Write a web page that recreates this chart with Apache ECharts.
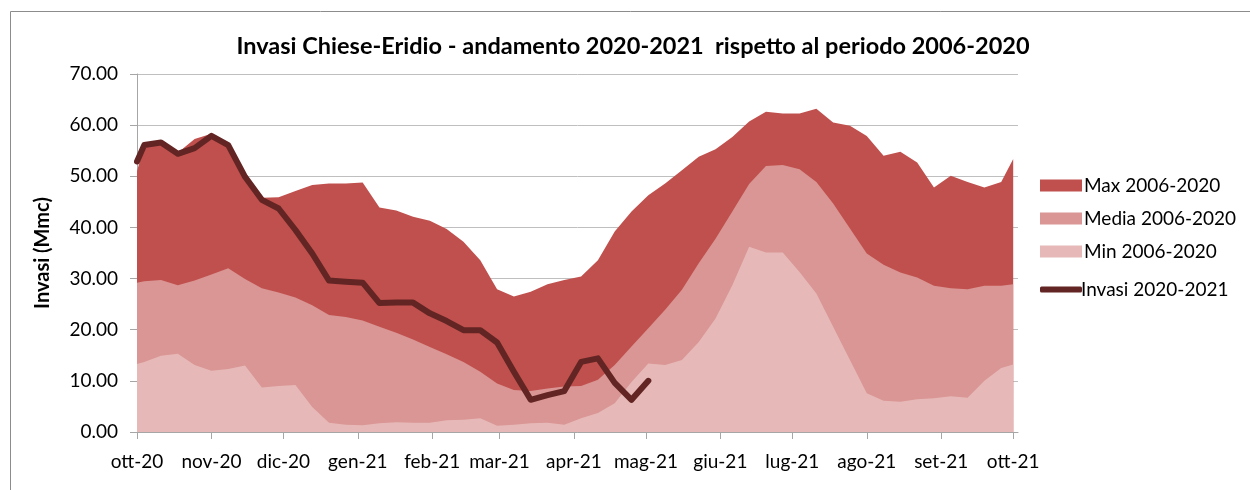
<!DOCTYPE html>
<html>
<head>
<meta charset="utf-8">
<script src="https://cdn.jsdelivr.net/npm/echarts@6/dist/echarts.min.js"></script>
<style>
html,body{margin:0;padding:0;background:#fff;}
#chart{width:1250px;height:490px;}
</style>
</head>
<body>
<div id="chart"></div>
<script>
// ---- DATA ----
var dates = ['2020-10-01','2020-10-04','2020-10-11','2020-10-18','2020-10-25','2020-11-01','2020-11-08','2020-11-15','2020-11-22','2020-11-29',
 '2020-12-06','2020-12-13','2020-12-20','2020-12-27','2021-01-03','2021-01-10','2021-01-17','2021-01-24','2021-01-31','2021-02-07',
 '2021-02-14','2021-02-21','2021-02-28','2021-03-07','2021-03-14','2021-03-21','2021-03-28','2021-04-04','2021-04-11','2021-04-18',
 '2021-04-25','2021-05-02','2021-05-09','2021-05-16','2021-05-23','2021-05-30','2021-06-06','2021-06-13','2021-06-20','2021-06-27',
 '2021-07-04','2021-07-11','2021-07-18','2021-07-25','2021-08-01','2021-08-08','2021-08-15','2021-08-22','2021-08-29','2021-09-05',
 '2021-09-12','2021-09-19','2021-09-26','2021-10-01'];

var maxVals = [51.0,56.0,56.5,54.6,57.3,58.3,56.0,50.0,45.8,45.9,
 47.1,48.3,48.6,48.6,48.8,43.9,43.3,42.1,41.3,39.7,
 37.2,33.6,27.9,26.5,27.4,28.9,29.7,30.4,33.6,39.2,
 43.1,46.3,48.6,51.2,53.8,55.3,57.7,60.7,62.6,62.3,
 62.3,63.2,60.5,59.9,57.9,54.0,54.8,52.7,47.8,50.1,
 48.9,47.8,48.9,53.4];

var mediaVals = [29.2,29.5,29.7,28.7,29.6,30.8,32.0,29.9,28.1,27.3,
 26.3,24.8,22.9,22.5,21.8,20.6,19.4,18.1,16.6,15.2,
 13.7,11.8,9.5,8.2,8.0,8.5,8.9,9.0,10.2,13.1,
 16.7,20.3,23.9,27.8,33.0,37.8,43.1,48.5,52.0,52.2,
 51.4,48.9,44.7,39.8,34.9,32.7,31.2,30.2,28.6,28.1,
 27.9,28.6,28.6,28.9];

var minVals = [13.3,13.7,14.9,15.3,13.1,12.0,12.3,13.0,8.7,9.0,
 9.2,4.9,1.8,1.4,1.3,1.7,1.9,1.8,1.8,2.3,
 2.4,2.7,1.2,1.4,1.7,1.8,1.4,2.7,3.7,5.6,
 9.8,13.4,13.1,14.1,17.6,22.2,28.7,36.2,35.1,35.1,
 31.3,27.1,20.6,14.1,7.6,6.1,5.9,6.4,6.6,7.0,
 6.7,10.0,12.5,13.2];

var invasiVals = [52.9,56.1,56.6,54.4,55.5,57.9,56.1,49.9,45.4,43.7,
 39.5,34.9,29.6,29.4,29.2,25.2,25.3,25.3,23.2,21.7,
 19.9,19.9,17.5,11.8,6.3,7.2,8.0,13.7,14.4,9.6,
 6.3,10.0];

var monthStarts = ['2020-10-01','2020-11-01','2020-12-01','2021-01-01','2021-02-01','2021-03-01','2021-04-01',
 '2021-05-01','2021-06-01','2021-07-01','2021-08-01','2021-09-01','2021-10-01'];
var monthLabels = ['ott-20','nov-20','dic-20','gen-21','feb-21','mar-21','apr-21','mag-21','giu-21','lug-21','ago-21','set-21','ott-21'];

var yTicks = [0,10,20,30,40,50,60,70];

var seriesNames = ['Max 2006-2020','Media 2006-2020','Min 2006-2020','Invasi 2020-2021'];

// ---- BUILD ----
var origin = Date.parse(dates[0] + 'T00:00:00Z');
function dayOf(s){ return Math.round((Date.parse(s + 'T00:00:00Z') - origin) / 86400000); }
var days = dates.map(dayOf);
var tickDays = monthStarts.map(dayOf);
function pairs(vals){ return vals.map(function(v,i){ return [days[i], v]; }); }

var FONT = 'Lato';
var chart = echarts.init(document.getElementById('chart'), null, {renderer:'canvas'});

function areaSeries(name, vals, color){
  return {
    name: name, type: 'line', data: pairs(vals),
    showSymbol: false, symbol: 'none', silent: true,
    lineStyle: {width: 0, color: color},
    itemStyle: {color: color},
    areaStyle: {color: color, opacity: 1, origin: 'start'},
    animation: false
  };
}

chart.setOption({
  animation: false,
  graphic: [{
    type: 'rect', left: 8, top: 9, silent: true,
    shape: {width: 1400, height: 600},
    style: {fill: 'none', stroke: '#8c8c8c', lineWidth: 1}
  }],
  title: {
    text: 'Invasi Chiese-Eridio - andamento 2020-2021  rispetto al periodo 2006-2020',
    left: 628, textAlign: 'center', top: 29,
    textStyle: {fontFamily: FONT, fontWeight: 'bold', fontSize: 23.5, color: '#000'}
  },
  legend: [{
    data: [
      {name: seriesNames[0], icon: 'rect'},
      {name: seriesNames[1], icon: 'rect'},
      {name: seriesNames[2], icon: 'rect'}
    ],
    orient: 'vertical', left: 1035, top: 171,
    itemWidth: 42, itemHeight: 12, itemGap: 14,
    textStyle: {fontFamily: FONT, fontSize: 19, color: '#000', padding: [0,0,0,-3]},
    selectedMode: false
  },{
    data: [{name: seriesNames[3], icon: 'roundRect'}],
    orient: 'vertical', left: 1035, top: 275,
    itemWidth: 42, itemHeight: 6,
    textStyle: {fontFamily: FONT, fontSize: 19, color: '#000', padding: [0,0,0,-6]},
    selectedMode: false
  }],
  grid: {left: 137, right: 232, top: 74, bottom: 58, containLabel: false},
  xAxis: {
    type: 'value', min: 0, max: 367,
    splitLine: {show: false},
    axisLine: {show: true, lineStyle: {color: '#a6a6a6', width: 1}},
    axisTick: {show: true, customValues: tickDays, length: 7, inside: false, lineStyle: {color: '#a6a6a6'}},
    axisLabel: {
      customValues: tickDays, margin: 20,
      fontFamily: FONT, fontSize: 19, color: '#000',
      formatter: function(v){ var i = tickDays.indexOf(Math.round(v)); return i >= 0 ? monthLabels[i] : ''; }
    }
  },
  yAxis: {
    type: 'value', min: yTicks[0], max: yTicks[yTicks.length-1], interval: 10,
    name: 'Invasi (Mmc)', nameLocation: 'middle', nameGap: 84, nameRotate: 90,
    nameTextStyle: {fontFamily: FONT, fontWeight: 'bold', fontSize: 20, color: '#000'},
    axisLine: {show: true, lineStyle: {color: '#a6a6a6', width: 1}},
    axisTick: {show: true, length: 7, lineStyle: {color: '#a6a6a6'}},
    splitLine: {show: true, lineStyle: {color: '#bfbfbf', width: 1}},
    axisLabel: {
      margin: 19, fontFamily: FONT, fontSize: 19, color: '#000',
      formatter: function(v){ return v.toFixed(2); }
    }
  },
  series: [
    areaSeries(seriesNames[0], maxVals, '#c0504d'),
    areaSeries(seriesNames[1], mediaVals, '#d99694'),
    areaSeries(seriesNames[2], minVals, '#e6b9b8'),
    {
      name: seriesNames[3], type: 'line',
      data: invasiVals.map(function(v,i){ return [days[i], v]; }),
      showSymbol: false, symbol: 'none', silent: true,
      itemStyle: {color: '#632523'},
      lineStyle: {width: 6, color: '#632523', cap: 'round', join: 'round'},
      z: 5
    }
  ]
});
</script>
</body>
</html>
